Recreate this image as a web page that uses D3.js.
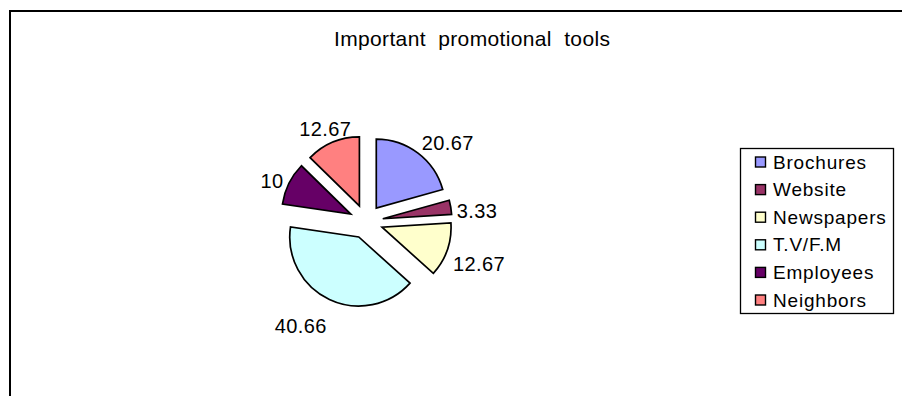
<!DOCTYPE html>
<html>
<head>
<meta charset="utf-8">
<script src="https://cdn.jsdelivr.net/npm/d3@7"></script>
<style>
  html, body { margin: 0; padding: 0; background: #fff; }
  svg { display: block; font-family: "Liberation Sans", Arial, sans-serif; }
</style>
</head>
<body>
<svg id="chart" width="902" height="396"></svg>
<script>
const categories = ["Brochures", "Website", "Newspapers", "T.V/F.M", "Employees", "Neighbors"];
const values = [20.67, 3.33, 12.67, 40.66, 10, 12.67];
const valueLabels = ["20.67", "3.33", "12.67", "40.66", "10", "12.67"];
const colors = ["#9999FF", "#993366", "#FFFFCC", "#CCFFFF", "#660066", "#FF8080"];
const title = "Important  promotional  tools";

const svg = d3.select("#chart");

// outer chart border (extends past the picture to right and bottom)
svg.append("rect")
  .attr("x", 10).attr("y", 11)
  .attr("width", 1000).attr("height", 1000)
  .attr("fill", "#fff").attr("stroke", "#000").attr("stroke-width", 2);

// title
svg.append("text")
  .attr("x", 334).attr("y", 46)
  .attr("text-anchor", "start")
  .attr("font-size", 21)
  .attr("letter-spacing", 0.35)
  .attr("fill", "#000")
  .style("white-space", "pre")
  .text(title);

// pie
const cx = 366, cy = 221.6, r = 69, explode = 17;
const pie = d3.pie().sort(null).value(d => d)(values);
const arc = d3.arc().innerRadius(0).outerRadius(r);

const g = svg.append("g");
pie.forEach((p, i) => {
  const mid = (p.startAngle + p.endAngle) / 2;
  const sx = Math.sin(mid), sy = -Math.cos(mid);
  g.append("path")
    .attr("transform", `translate(${cx + explode * sx},${cy + explode * sy})`)
    .attr("d", arc(p))
    .attr("fill", colors[i])
    .attr("stroke", "#000")
    .attr("stroke-width", 1.7)
    .attr("stroke-linejoin", "miter");

  // data label placed outside the slice
  const t = svg.append("text")
    .attr("font-size", 20)
    .attr("letter-spacing", 0.4)
    .attr("fill", "#000")
    .attr("text-anchor", "middle")
    .attr("dominant-baseline", "central")
    .text(valueLabels[i]);
  const bb = t.node().getBBox();
  const hw = bb.width / 2;
  const base = r + explode + 6;
  const dx = Math.abs(sx) > 0.4 ? Math.sign(sx) * hw : sx * hw * 0.5;
  const lx = cx + base * sx + dx;
  const ly = cy + base * sy + 7 + 16 * sy;
  t.attr("x", lx).attr("y", ly);
});

// legend
const lg = svg.append("g");
lg.append("rect")
  .attr("x", 740.5).attr("y", 148.5)
  .attr("width", 153).attr("height", 165)
  .attr("fill", "#fff").attr("stroke", "#000").attr("stroke-width", 1.3);

const ly0 = 162, lstep = 27.6;
categories.forEach((c, i) => {
  const y = ly0 + i * lstep;
  lg.append("rect")
    .attr("x", 755.5).attr("y", y - 5)
    .attr("width", 10).attr("height", 10)
    .attr("fill", colors[i]).attr("stroke", "#000").attr("stroke-width", 1.4);
  lg.append("text")
    .attr("x", 773).attr("y", y)
    .attr("dominant-baseline", "central")
    .attr("font-size", 19)
    .attr("letter-spacing", 0.8)
    .attr("fill", "#000")
    .text(c);
});
</script>
</body>
</html>
